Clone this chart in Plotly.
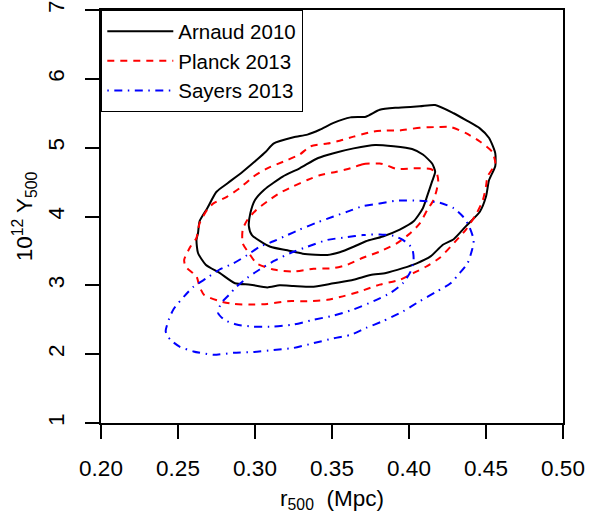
import plotly.graph_objects as go

# ---- data ----
arnaud_outer_x = [0.417, 0.407, 0.392, 0.381, 0.372, 0.362, 0.351, 0.342, 0.334, 0.325, 0.312, 0.307, 0.301, 0.292,
                  0.282, 0.275, 0.269, 0.264, 0.263, 0.262, 0.263, 0.268, 0.277, 0.287, 0.297, 0.308, 0.316, 0.325,
                  0.338, 0.351, 0.364, 0.375, 0.385, 0.396, 0.405, 0.414, 0.422, 0.429, 0.437, 0.446, 0.450, 0.452,
                  0.456, 0.456, 0.452, 0.446, 0.437, 0.429, 0.417]
arnaud_outer_y = [5.62, 5.60, 5.58, 5.55, 5.45, 5.44, 5.36, 5.26, 5.19, 5.15, 5.06, 4.94, 4.82, 4.65,
                  4.48, 4.36, 4.12, 3.93, 3.76, 3.66, 3.47, 3.30, 3.18, 3.03, 3.01, 2.97, 3.00, 2.99,
                  2.98, 3.03, 3.08, 3.15, 3.18, 3.25, 3.32, 3.42, 3.59, 3.67, 3.86, 4.07, 4.29, 4.53,
                  4.73, 4.92, 5.14, 5.28, 5.40, 5.50, 5.62]
arnaud_inner_x = [0.378, 0.364, 0.351, 0.341, 0.329, 0.318, 0.306, 0.300, 0.297, 0.296, 0.298, 0.310, 0.321, 0.331,
                  0.347, 0.355, 0.364, 0.372, 0.383, 0.394, 0.403, 0.409, 0.412, 0.415, 0.417, 0.415, 0.409, 0.402,
                  0.390, 0.378]
arnaud_inner_y = [5.04, 4.99, 4.92, 4.85, 4.70, 4.58, 4.39, 4.24, 4.05, 3.86, 3.73, 3.56, 3.51, 3.46,
                  3.44, 3.48, 3.56, 3.64, 3.71, 3.81, 3.93, 4.12, 4.31, 4.51, 4.65, 4.77, 4.90, 4.98,
                  5.02, 5.04]

planck_outer_x = [0.419, 0.407, 0.394, 0.385, 0.376, 0.364, 0.355, 0.347, 0.336, 0.329, 0.321, 0.308, 0.299, 0.290,
                  0.282, 0.273, 0.269, 0.264, 0.262, 0.258, 0.254, 0.255, 0.262, 0.264, 0.267, 0.277, 0.286, 0.299,
                  0.308, 0.321, 0.334, 0.347, 0.357, 0.368, 0.381, 0.394, 0.403, 0.411, 0.420, 0.431, 0.437, 0.444,
                  0.448, 0.450, 0.451, 0.456, 0.454, 0.446, 0.437, 0.427, 0.419]
planck_outer_y = [5.30, 5.29, 5.25, 5.25, 5.23, 5.16, 5.10, 5.06, 5.02, 4.90, 4.82, 4.70, 4.58, 4.41,
                  4.29, 4.19, 4.10, 3.90, 3.69, 3.56, 3.37, 3.27, 3.13, 2.98, 2.86, 2.77, 2.73, 2.72,
                  2.73, 2.77, 2.77, 2.79, 2.84, 2.91, 3.01, 3.08, 3.18, 3.27, 3.40, 3.66, 3.81, 4.05,
                  4.24, 4.44, 4.58, 4.77, 4.94, 5.09, 5.21, 5.30, 5.30]
planck_inner_x = [0.381, 0.370, 0.362, 0.353, 0.342, 0.334, 0.325, 0.316, 0.308, 0.301, 0.295, 0.292, 0.292, 0.296,
                  0.301, 0.312, 0.325, 0.338, 0.351, 0.360, 0.370, 0.381, 0.392, 0.401, 0.407, 0.412, 0.416, 0.418,
                  0.419, 0.418, 0.414, 0.403, 0.392, 0.385, 0.381]
planck_inner_y = [4.77, 4.76, 4.70, 4.65, 4.60, 4.53, 4.44, 4.34, 4.22, 4.10, 3.95, 3.81, 3.61, 3.47,
                  3.32, 3.23, 3.20, 3.24, 3.25, 3.30, 3.40, 3.49, 3.61, 3.76, 3.90, 4.10, 4.24, 4.39,
                  4.51, 4.63, 4.69, 4.70, 4.69, 4.75, 4.77]

sayers_outer_x = [0.392, 0.381, 0.370, 0.360, 0.351, 0.340, 0.329, 0.321, 0.312, 0.303, 0.295, 0.286, 0.277, 0.269,
                  0.260, 0.254, 0.247, 0.244, 0.242, 0.245, 0.251, 0.260, 0.273, 0.286, 0.299, 0.312, 0.325, 0.338,
                  0.351, 0.362, 0.372, 0.383, 0.396, 0.407, 0.418, 0.427, 0.433, 0.438, 0.441, 0.442, 0.439, 0.435,
                  0.429, 0.420, 0.407, 0.392]
sayers_outer_y = [4.23, 4.19, 4.15, 4.07, 4.00, 3.91, 3.81, 3.73, 3.64, 3.56, 3.44, 3.32, 3.23, 3.11,
                  2.98, 2.84, 2.65, 2.50, 2.33, 2.21, 2.11, 2.04, 1.99, 2.02, 2.03, 2.06, 2.09, 2.16,
                  2.23, 2.28, 2.38, 2.48, 2.62, 2.77, 2.91, 3.03, 3.18, 3.32, 3.52, 3.66, 3.86, 4.00,
                  4.12, 4.20, 4.23, 4.23]
sayers_inner_x = [0.381, 0.370, 0.360, 0.347, 0.334, 0.323, 0.312, 0.303, 0.295, 0.288, 0.283, 0.278, 0.276, 0.280,
                  0.288, 0.299, 0.312, 0.325, 0.338, 0.351, 0.364, 0.377, 0.388, 0.396, 0.401, 0.403, 0.402, 0.396,
                  0.390, 0.381]
sayers_inner_y = [3.74, 3.73, 3.70, 3.66, 3.56, 3.47, 3.35, 3.23, 3.11, 2.98, 2.86, 2.74, 2.60, 2.50,
                  2.43, 2.40, 2.40, 2.43, 2.50, 2.56, 2.65, 2.77, 2.89, 3.03, 3.20, 3.37, 3.54, 3.66,
                  3.72, 3.74]

x_ticks = [0.20, 0.25, 0.30, 0.35, 0.40, 0.45, 0.50]
y_ticks = [1, 2, 3, 4, 5, 6, 7]

FONT = "Liberation Sans, Arial, sans-serif"

series = [
    ("Arnaud 2010", "black", "solid", [(arnaud_outer_x, arnaud_outer_y), (arnaud_inner_x, arnaud_inner_y)]),
    ("Planck 2013", "#ff0000", "7px,6px", [(planck_outer_x, planck_outer_y), (planck_inner_x, planck_inner_y)]),
    ("Sayers 2013", "#0000ff", "1.5px,5.5px,8px,5.5px", [(sayers_outer_x, sayers_outer_y), (sayers_inner_x, sayers_inner_y)]),
]

fig = go.Figure()
for name, color, dash, curves in series:
    for i, (cx, cy) in enumerate(curves):
        fig.add_trace(go.Scatter(
            x=cx, y=cy, mode="lines", name=name, legendgroup=name,
            showlegend=(i == 0),
            line=dict(color=color, width=2, dash=dash, shape="spline", smoothing=0.6),
        ))

fig.update_layout(
    width=589, height=516,
    margin=dict(l=101, r=26, t=10, b=93, autoexpand=False),
    paper_bgcolor="white", plot_bgcolor="white",
    font=dict(family=FONT, size=21, color="black"),
    showlegend=True,
    legend=dict(x=0, y=1, xanchor="left", yanchor="top", xref="paper", yref="paper",
                bgcolor="white", bordercolor="black", borderwidth=1.3,
                font=dict(size=20.5), tracegroupgap=0, itemwidth=66),
    xaxis=dict(range=[0.20, 0.50], tickvals=x_ticks, ticktext=[f"{v:.2f}" for v in x_ticks],
               ticks="outside", ticklen=14, tickwidth=1.5, tickcolor="black", automargin=False,
               ticklabelstandoff=10, ticklabeloverflow="allow",
               showline=True, linecolor="black", linewidth=1.5, mirror=True,
               showgrid=False, zeroline=False, tickfont=dict(size=22.5),
               title=dict(text="r<sub>500</sub>  (Mpc)", font=dict(size=22.5), standoff=10)),
    yaxis=dict(range=[1, 7], tickvals=y_ticks, ticktext=[str(v) for v in y_ticks],
               ticks="outside", ticklen=14, tickwidth=1.5, tickcolor="black", tickangle=-90,
               ticklabelstandoff=12, automargin=False, ticklabeloverflow="allow",
               showline=True, linecolor="black", linewidth=1.5, mirror=True,
               showgrid=False, zeroline=False, tickfont=dict(size=22.5),
               title=dict(text="10<sup>12</sup> Y<sub>500</sub>", font=dict(size=22.5), standoff=5)),
)

# remove the default 8px page margin so the figure fills the window exactly
fig.write_html("out.html", config={"displayModeBar": False},
               post_script="document.body.style.margin='0';")
